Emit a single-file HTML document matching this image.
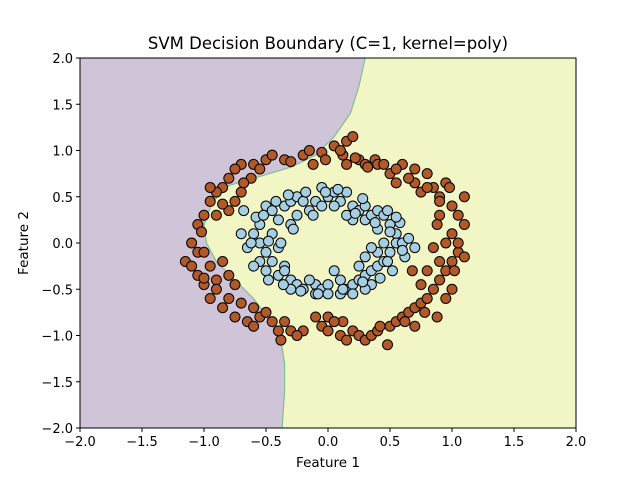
<!DOCTYPE html>
<html><head><meta charset="utf-8"><style>
body{margin:0;background:#fff}
svg text{font-family:"DejaVu Sans","Liberation Sans",sans-serif}
</style></head><body>
<svg id="chart" width="640" height="480" xmlns="http://www.w3.org/2000/svg">
<text x="328" y="49" text-anchor="middle" font-size="16.5">SVM Decision Boundary (C=1, kernel=poly)</text>
<g id="plot"></g>
<text x="328" y="467" text-anchor="middle" font-size="13.5">Feature 1</text>
<text x="28" y="243" text-anchor="middle" font-size="13.5" transform="rotate(-90 28 243)">Feature 2</text>
</svg>
<script>
const xTicks=[-2,-1.5,-1,-0.5,0,0.5,1,1.5,2];
const yTicks=[-2,-1.5,-1,-0.5,0,0.5,1,1.5,2];
const boundaryX=[0.3,0.25,0.18,0.05,-0.1,-0.3,-0.55,-0.8,-0.93,-1.0,-0.98,-0.9,-0.75,-0.6,-0.5,-0.38,-0.35,-0.35,-0.37];
const boundaryY=[2,1.7,1.4,1.15,0.95,0.82,0.72,0.62,0.45,0.2,0,-0.2,-0.4,-0.6,-0.78,-1.05,-1.3,-1.6,-2];
const outerX=[-0.6,-0.5,-0.45,-0.35,-0.3,-0.2,-0.15,-0.12,-0.05,-0.02,0.05,0.15,0.2,0.12,0.25,0.3,0.38,0.4,0.15,0.22,
-0.7,-0.75,-0.8,-0.85,-0.9,-0.95,-1.0,-1.05,-0.9,-0.8,-0.75,-0.7,-0.95,-0.62,-0.55,
-1.1,-1.05,-1.15,-1.1,-1.0,-0.95,-1.05,-0.9,-1.0,-0.85,-0.8,-0.75,-0.9,-0.95,-0.8,-0.7,-0.75,-0.65,-0.55,-0.5,-0.6,-0.45,
-0.35,-0.3,-0.38,-0.2,-0.05,0.0,0.1,0.15,0.2,0.25,0.3,0.35,0.4,0.5,0.55,0.48,0.6,0.65,0.7,0.75,0.7,0.62,-0.1,0.0,0.12,
0.8,0.85,0.9,0.95,1.0,1.05,1.1,0.88,0.95,1.0,0.75,0.8,0.9,0.95,1.0,1.05,1.1,1.05,1.0,0.9,0.85,0.8,0.9,1.1,0.95,0.75,0.7,0.65,0.55,0.5,0.45,0.6,0.7,0.8,0.9,0.85,
-0.68,-0.85,-1.02,-1.0,-0.85,-0.6,-0.25,0.05,0.42,0.78,0.98,1.02,0.88,0.55,0.1,-0.4,0.32,0.68];
const outerY=[0.85,0.9,0.95,0.9,0.88,0.95,1.0,0.85,0.98,0.9,1.05,1.1,1.15,0.95,0.9,0.85,0.9,0.85,0.85,0.92,
0.85,0.8,0.7,0.6,0.55,0.45,0.3,0.2,0.3,0.35,0.45,0.55,0.6,0.7,0.8,
0.0,-0.1,-0.2,-0.25,-0.1,-0.25,-0.35,-0.4,-0.45,-0.2,-0.35,-0.45,-0.5,-0.6,-0.6,-0.65,-0.8,-0.85,-0.8,-0.75,-0.9,-0.85,
-0.85,-0.95,-1.05,-0.95,-0.9,-0.95,-1.0,-1.05,-0.95,-1.0,-1.05,-1.0,-0.95,-0.9,-0.85,-1.1,-0.8,-0.75,-0.7,-0.65,-0.9,-0.85,-0.8,-0.8,-0.85,
-0.6,-0.5,-0.4,-0.3,-0.2,-0.1,-0.15,-0.8,-0.6,-0.5,-0.45,-0.3,-0.2,0.0,0.1,0.0,0.2,0.3,0.4,0.5,0.6,0.75,0.45,0.5,0.65,0.55,0.65,0.7,0.65,0.75,0.85,0.85,0.8,0.6,0.3,-0.05,
0.65,0.42,0.12,-0.38,-0.7,-0.7,-1.0,-0.85,-0.9,-0.75,0.6,-0.3,0.2,0.8,1.0,-0.95,0.82,-0.3];
const innerX=[-0.5,-0.45,-0.4,-0.35,-0.3,-0.25,-0.2,-0.15,-0.1,-0.05,0.0,0.05,0.1,0.15,0.2,0.25,0.3,0.35,0.4,0.45,0.5,0.55,-0.05,-0.3,-0.25,0.2,0.15,0.4,0.3,
-0.55,-0.6,-0.55,-0.5,-0.45,-0.5,-0.4,-0.35,-0.45,-0.65,-0.7,-0.4,-0.3,-0.25,-0.2,-0.3,-0.55,-0.38,-0.68,
-0.1,-0.05,0.0,0.05,0.1,0.15,0.2,0.25,0.3,0.35,0.4,0.45,0.5,0.55,0.4,0.3,0.35,0.45,0.6,-0.1,0.2,0.1,0.0,0.35,0.3,0.25,-0.15,
-0.42,-0.32,-0.18,-0.02,0.08,0.28,0.48,0.58,0.65,0.7,0.62,0.52,0.42,0.28,0.12,-0.08,-0.22,-0.36,-0.48,-0.6,-0.62,-0.58,-0.52,-0.28,-0.12,0.05,0.22,0.38,0.5,0.6,-0.35,-0.48,0.48,0.55];
const innerY=[0.4,0.35,0.25,0.4,0.45,0.5,0.45,0.35,0.45,0.4,0.5,0.55,0.45,0.55,0.4,0.35,0.25,0.3,0.35,0.3,0.2,0.1,0.6,0.2,0.3,0.25,0.3,0.15,0.4,
0.2,0.1,0.0,-0.1,-0.2,-0.3,-0.35,-0.25,0.1,-0.05,0.1,-0.05,-0.4,-0.45,-0.5,-0.5,-0.2,0.0,0.35,
-0.45,-0.5,-0.45,-0.3,-0.4,-0.5,-0.45,-0.4,-0.35,-0.3,-0.25,-0.2,-0.1,0.0,-0.1,-0.15,-0.05,0.0,0.0,-0.55,-0.55,-0.55,-0.55,-0.45,-0.5,-0.25,-0.4,
0.45,0.52,0.55,0.55,0.58,0.48,0.35,0.22,0.05,-0.05,-0.15,-0.3,-0.38,-0.42,-0.5,-0.55,-0.52,-0.45,-0.4,-0.25,0.0,0.28,0.3,0.15,0.3,0.4,0.32,0.22,0.12,-0.08,-0.3,0.02,-0.2,0.28];

const L=80,R=576,T=58,B=428;
const sx=v=>L+(v+2)/4*(R-L);
const sy=v=>T+(2-v)/4*(B-T);
const NS="http://www.w3.org/2000/svg";
const g=document.getElementById('plot');
function mk(tag,attrs){const e=document.createElementNS(NS,tag);for(const k in attrs)e.setAttribute(k,attrs[k]);return e;}

const bg=mk('rect',{x:L,y:T,width:R-L,height:B-T,fill:'#f2f6c4'});


g.appendChild(bg);
let d='M'+L+','+T;
for(let i=0;i<boundaryX.length;i++)d+=' L'+sx(boundaryX[i]).toFixed(1)+','+sy(boundaryY[i]).toFixed(1);
d+=' L'+L+','+B+' Z';
const reg=mk('path',{d:d,fill:'#d0c4d8'});


g.appendChild(reg);
let bd='';
for(let i=0;i<boundaryX.length;i++)bd+=(i?' L':'M')+sx(boundaryX[i]).toFixed(1)+','+sy(boundaryY[i]).toFixed(1);
const bl=mk('path',{d:bd,fill:'none',stroke:'#7fbf8f','stroke-width':1.2});


g.appendChild(bl);

function pts(xs,ys,col,name){
 for(let i=0;i<xs.length;i++){
  const c=mk('circle',{cx:sx(xs[i]),cy:sy(ys[i]),r:5,fill:col,stroke:'#000','stroke-width':1});
  
  
  g.appendChild(c);
 }
}
pts(outerX,outerY,'#b15928','point-class-0');
pts(innerX,innerY,'#a6cee3','point-class-1');

const fr=mk('rect',{x:L,y:T,width:R-L,height:B-T,fill:'none',stroke:'#000','stroke-width':1});


g.appendChild(fr);

xTicks.forEach(v=>{
 const x=sx(v);
 g.appendChild(mk('line',{x1:x,y1:B,x2:x,y2:B+4,stroke:'#000'}));
 const t=mk('text',{x:x,y:B+18,'text-anchor':'middle','font-size':13});
 t.textContent=v.toFixed(1).replace('-','\u2212');
 
 
 g.appendChild(t);
});
yTicks.forEach(v=>{
 const y=sy(v);
 g.appendChild(mk('line',{x1:L-4,y1:y,x2:L,y2:y,stroke:'#000'}));
 const t=mk('text',{x:L-7,y:y+5,'text-anchor':'end','font-size':13});
 t.textContent=v.toFixed(1).replace('-','\u2212');
 
 
 g.appendChild(t);
});
</script>
</body></html>
